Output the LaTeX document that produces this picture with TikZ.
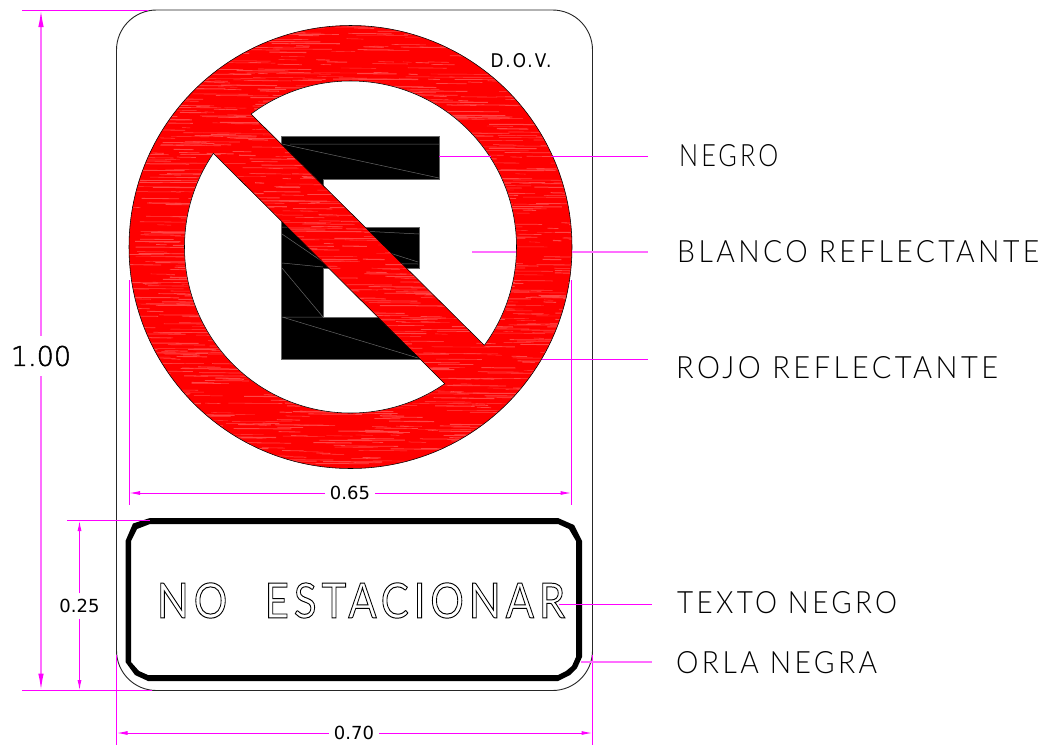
\documentclass[tikz,border=0pt]{standalone}
\usepackage{fontspec}
\usetikzlibrary{arrows.meta}
\setmainfont{DejaVu Sans}
\newfontfamily\cadfont[LetterSpace=12]{Lato Light}
\newfontfamily\plainfont[LetterSpace=12]{Lato}
\newfontfamily\lightnum{DejaVu Sans ExtraLight}
\newfontfamily\dovfont[LetterSpace=12]{DejaVu Sans}
\definecolor{mag}{RGB}{255,0,255}
\definecolor{softmag}{RGB}{255,110,255}
\definecolor{streak}{RGB}{255,70,70}
\newcommand{\cadtext}[3]{\resizebox{#1pt}{#2pt}{\cadfont #3}}
\newcommand{\doStreaks}{%
  \pgfmathsetseed{11}%
  \foreach \i in {1,...,1500}{%
    \pgfmathsetmacro{\sx}{125+rnd*450}%
    \pgfmathsetmacro{\sy}{24+rnd*448}%
    \pgfmathsetmacro{\sl}{8+rnd*55}%
    \pgfmathsetmacro{\sw}{0.3+rnd*0.8}%
    \draw[streak,line width=\sw pt] (\sx,\sy) -- ++(\sl,0.4);
  }%
}
\tikzset{
  x=1pt,y=-1pt,
  dim/.style={mag,line width=1pt},
  softdim/.style={softmag,line width=1.5pt},
  arrbig/.style={softdim,-{Latex[length=17pt,width=5.5pt,color=mag]}},
  arrmid/.style={dim,-{Latex[length=10.5pt,width=4pt]}},
  arrhor/.style={dim,-{Latex[length=11pt,width=4pt]}},
  dimtext/.style={font=\fontsize{18}{18}\selectfont,inner sep=0pt,minimum width=50pt,minimum height=25pt,text=black},
  callout/.style={inner sep=0pt,anchor=west,text=black},
  hair/.style={line width=0.5pt,black!60},
  thin outline/.style={line width=0.55pt,black}
}
\begin{document}
\begin{tikzpicture}
\useasboundingbox (0,0) rectangle (1052,745);
\fill[white] (0,0) rectangle (1052,745);
% plate
\draw[line width=0.9pt,black!85,rounded corners=40pt] (116.5,10) rectangle (592.5,690.5);
% coordinates
\coordinate (cc) at (350.5,247);
\coordinate (topL) at (22,10);     \coordinate (topR) at (148,10);
\coordinate (botL) at (22,690.5);  \coordinate (botR) at (152,690.5);
\coordinate (bigT) at (41,10);     \coordinate (bigB) at (41,690.5);
\coordinate (midTL) at (67,520.5); \coordinate (midTR) at (150,520.5);
\coordinate (midT) at (79.5,520.5);\coordinate (midB) at (79.5,690.5);
\coordinate (h65L) at (129,493);   \coordinate (h65R) at (571.5,493);
\coordinate (e65La) at (129,280);  \coordinate (e65Lb) at (129,505);
\coordinate (e65Ra) at (571.5,280);\coordinate (e65Rb) at (571.5,505);
\coordinate (h70L) at (116.5,733); \coordinate (h70R) at (592.5,733);
\coordinate (e70La) at (116.5,655);\coordinate (e70Lb) at (116.5,745);
\coordinate (e70Ra) at (592.5,655);\coordinate (e70Rb) at (592.5,745);
% leaders under the sign face
\draw[dim] (e65La) -- (e65Lb);
\draw[dim] (e65Ra) -- (e65Rb);
% red disc
\fill[red] (cc) circle[radius=221.5];
\begin{scope}
  \clip (cc) circle[radius=221.5];
  \doStreaks
\end{scope}
\draw[thin outline] (cc) circle[radius=221.5];
\draw[thin outline,fill=white] (cc) circle[radius=166];
% E
\fill[black,draw=black!60,line width=0.5pt] (281.5,136) -- (439,136) -- (439,179) -- (323,179) -- (323,227) -- (419,227) -- (419,268) -- (323,268) -- (323,317) -- (419,317) -- (419,359) -- (281.5,359) -- cycle;
\draw[hair] (290,144) -- (439,144) (282,144) -- (439,178) (282,317) -- (418,358) (282,317) -- (323,317) (282,234) -- (323,262) (282,263) -- (323,267) (282,268) -- (323,317) (282,227) -- (419,234) (330,234) -- (418,262) (360,263) -- (418,264);
% bar
\begin{scope}
  \clip (236,99) -- (499,360) -- (460,399) -- (198,138) -- cycle;
  \fill[red] (190,90) rectangle (510,410);
  \doStreaks
\end{scope}
\draw[thin outline] (251,114) -- (484,345) (445,384) -- (213,153);
% black border of the legend panel
\fill[black,even odd rule] (150,518) -- (558,518) -- (574,525) -- (582,541) -- (582,657) -- (577,668) -- (570,675) -- (558,681) -- (148,681) -- (135,675) -- (125.5,662) -- (125.5,541) -- (133,523.5) -- cycle
 (150,524) -- (558,524) -- (569,529) -- (576,541) -- (576,657) -- (572,666) -- (566,671) -- (558,675) -- (148,675) -- (139,671) -- (131,662) -- (131,541) -- (137,529) -- cycle;
% legend
\node[inner sep=0pt] (legend) at (361,600.5) {\resizebox{408pt}{35pt}{\special{pdf:code 1 Tr 0.2 w}\plainfont NO\hspace{0.9em}ESTACIONAR\special{pdf:code 0 Tr}}};
\node[inner sep=0pt] (dov) at (521,60.5) {\resizebox{61pt}{14pt}{\dovfont D.O.V.}};
% dimensions
\draw[dim] (topL) -- (topR);
\draw[dim] (botL) -- (botR);
\draw[dim] (midTL) -- (midTR);
\draw[dim] (e70La) -- (e70Lb);
\draw[dim] (e70Ra) -- (e70Rb);
\node[dimtext,font=\fontsize{27}{27}\lightnum,minimum height=40pt,minimum width=60pt] (l100) at (41,356) {\special{pdf:code 2 Tr 0.5 w}1.00\special{pdf:code 0 Tr}};
\draw[arrbig] (l100) -- (bigT);
\draw[arrbig] (l100) -- (bigB);
\node[dimtext,minimum width=44pt] (l25) at (79.5,606) {0.25};
\draw[arrmid] (l25) -- (midT);
\draw[arrmid] (l25) -- (midB);
\node[dimtext] (l65) at (350,493) {0.65};
\draw[arrhor] (l65) -- (h65L);
\draw[arrhor] (l65) -- (h65R);
\node[dimtext] (l70) at (354,733) {0.70};
\draw[arrhor] (l70) -- (h70L);
\draw[arrhor] (l70) -- (h70R);
% callouts
\coordinate (n1) at (439,156); \coordinate (n2) at (491,156); \coordinate (n3) at (551,156); \coordinate (n4) at (648,156);
\draw[dim] (n1) -- (n2); \draw[dim] (n3) -- (n4);
\coordinate (b1) at (472,252); \coordinate (b2) at (516,252); \coordinate (b3) at (572,252); \coordinate (b4) at (648,252);
\draw[softdim] (b1) -- (b2); \draw[softdim] (b3) -- (b4);
\coordinate (r1) at (542,359); \coordinate (r2) at (648,359);
\draw[dim] (r1) -- (r2);
\coordinate (t1) at (559,604.5); \coordinate (t2) at (652,604.5);
\draw[dim] (t1) -- (t2);
\coordinate (o1) at (581,662); \coordinate (o2) at (652,662);
\draw[softdim] (o1) -- (o2);
\node[callout] (c1) at (679,156) {\cadtext{99}{22}{NEGRO}};
\node[callout] (c2) at (677,252) {\cadtext{362}{22}{BLANCO REFLECTANTE}};
\node[callout] (c3) at (676,367.5) {\cadtext{322}{22}{ROJO REFLECTANTE}};
\node[callout] (c4) at (677,603) {\cadtext{220}{22}{TEXTO NEGRO}};
\node[callout] (c5) at (676,662.5) {\cadtext{201}{22}{ORLA NEGRA}};
\end{tikzpicture}
\end{document}
